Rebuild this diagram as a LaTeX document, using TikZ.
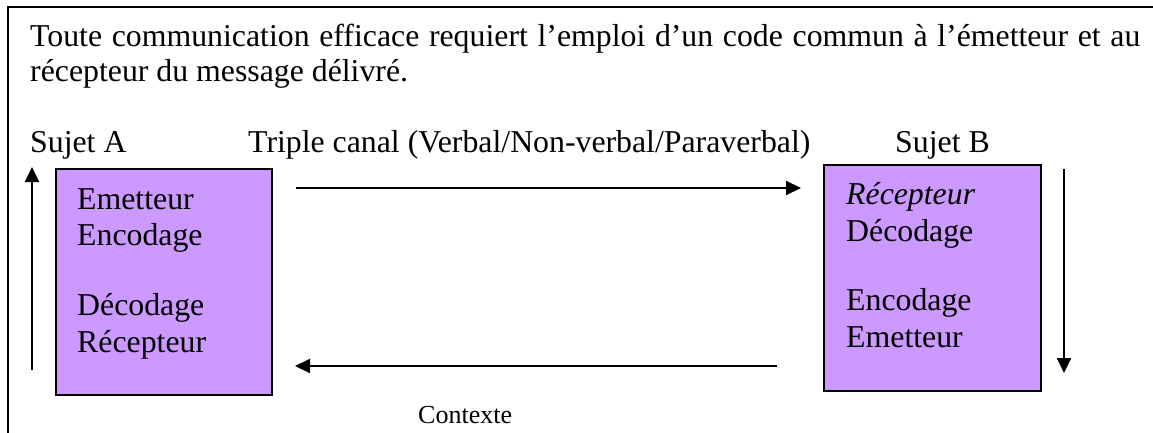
\documentclass[tikz,border=0pt]{standalone}
\usepackage{fontspec}
\setmainfont{Liberation Serif}
\usetikzlibrary{arrows.meta}
\definecolor{boxfill}{HTML}{CC99FF}
\tikzset{
  lbl/.style={anchor=base west, inner sep=0pt, font=\fontsize{31.8}{36}\selectfont},
  small/.style={anchor=base west, inner sep=0pt, font=\fontsize{26}{30}\selectfont},
  subj/.style={draw=black, line width=2pt, fill=boxfill},
  flow/.style={line width=2pt, -{Triangle[length=15pt,width=14pt]}},
  frame/.style={line width=2.2pt}
}
\begin{document}
\begin{tikzpicture}[x=1pt,y=-1pt]
\useasboundingbox (0,0) rectangle (1153,433);
% frame
\coordinate (fr1) at (1153,7);
\coordinate (fr2) at (8,7);
\coordinate (fr3) at (8,433);
\draw[frame] (fr1) -- (fr2) -- (fr3);
% intro text
\node[lbl] (intro1) at (30,47)
  {\makebox[1110pt][s]{Toute communication efficace requiert l’emploi d’un code commun à l’émetteur et au}};
\node[lbl] (intro2) at (30,82) {récepteur du message délivré.};
% headings
\node[lbl] (sa) at (30,152) {Sujet A};
\node[lbl] (canal) at (248,152) {Triple canal (Verbal/Non-verbal/Paraverbal)};
\node[lbl] (sb) at (895,152) {Sujet B};
% boxes
\path[subj] (56,169) rectangle (272,395);
\coordinate (boxA) at (164,282);
\path[subj] (824,165) rectangle (1041,391);
\coordinate (boxB) at (932,278);
% box A text
\node[lbl] (a1) at (77,209) {Emetteur};
\node[lbl] (a2) at (77,245) {Encodage};
\node[lbl] (a3) at (77,315) {Décodage};
\node[lbl] (a4) at (77,352) {Récepteur};
% box B text
\node[lbl] (b1) at (846,204) {\itshape Récepteur};
\node[lbl] (b2) at (846,241) {Décodage};
\node[lbl] (b3) at (846,310) {Encodage};
\node[lbl] (b4) at (846,347) {Emetteur};
% arrows
\coordinate (upS) at (32,370);
\coordinate (upE) at (32,167);
\draw[flow] (upS) -- (upE);
\coordinate (dnS) at (1064,169);
\coordinate (dnE) at (1064,373);
\draw[flow] (dnS) -- (dnE);
\coordinate (topS) at (296,188);
\coordinate (topE) at (801,188);
\draw[flow] (topS) -- (topE);
\coordinate (botS) at (777,366);
\coordinate (botE) at (295,366);
\draw[flow] (botS) -- (botE);
% context
\node[small] (ctx) at (418,423) {Contexte};
\end{tikzpicture}
\end{document}
